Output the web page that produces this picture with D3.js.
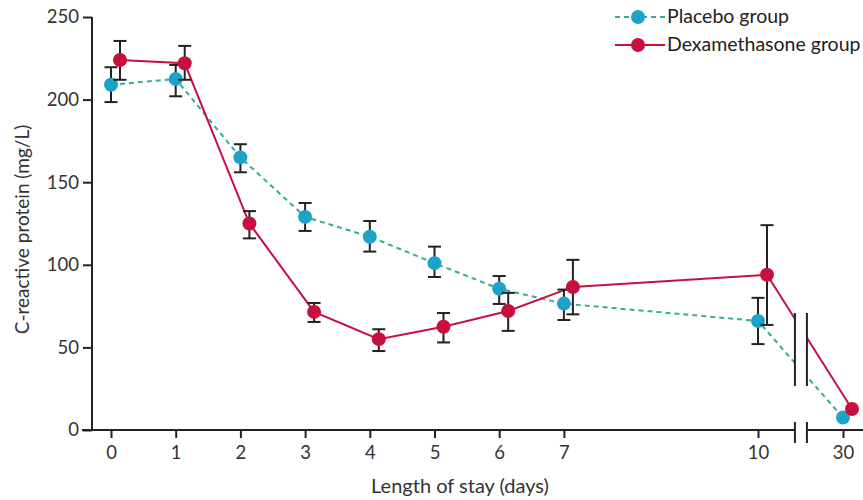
<!DOCTYPE html>
<html><head><meta charset="utf-8">
<script src="https://cdn.jsdelivr.net/npm/d3@7"></script>
<style>body{margin:0;background:#fff}svg{display:block}text{font-family:Lato,"Open Sans",sans-serif}</style>
</head><body><svg id="c" width="863" height="500"></svg>
<script>
const days = [0,1,2,3,4,5,6,7,10,30];
const xTicks = [0,1,2,3,4,5,6,7,10,30];
const yTicks = [0,50,100,150,200,250];
const placeboMean = [209,212.5,165,129,117,101,85.5,76.5,66,7.5];
const placeboLo   = [198.5,202,156,120.5,108,92.6,76.3,66.6,52,null];
const placeboHi   = [219.6,221,173,137.4,126.5,111,93.2,85,80,null];
const dexaMean = [224,222,125,71.5,55,62.5,72,86.6,94,12.7];
const dexaLo   = [212,212,116,65.4,47.8,53,60,70,63.6,null];
const dexaHi   = [235.5,232.5,132.5,76.9,61,70.8,83,103,124,null];
const seriesNames = ["Placebo group","Dexamethasone group"];

const svg = d3.select("#c");
const x = d3.scaleLinear().domain([0,10,30]).range([111,758,843]);
const y = d3.scaleLinear().domain([0,250]).range([430,17]);
const axisX0 = 92, breakDay = 20.1, breakHalf = 6;
const colP = "#1ba3c9", colPLine = "#35ab9c", colD = "#c8103f";

const series = [
  {name:seriesNames[0], mean:placeboMean, lo:placeboLo, hi:placeboHi, dx:0, color:colP, line:colPLine, dash:"5,4"},
  {name:seriesNames[1], mean:dexaMean, lo:dexaLo, hi:dexaHi, dx:9, color:colD, line:colD, dash:null}
];

// y axis
const yAxis = d3.axisLeft(y).tickValues(yTicks).tickSize(9).tickPadding(4);
const gy = svg.append("g").attr("transform",`translate(${axisX0},0)`).call(yAxis);
gy.select(".domain").attr("d",`M0,${y(250)}V${y(0)}`);
// x axis
const xAxis = d3.axisBottom(x).tickValues(xTicks).tickSize(8).tickPadding(8);
const gx = svg.append("g").attr("transform",`translate(0,${y(0)})`).call(xAxis);
gx.select(".domain").attr("d",`M${axisX0-10},0H863`);
[gx,gy].forEach(g=>{
  g.selectAll("path,line").attr("stroke","#222").attr("stroke-width",2);
  g.selectAll("text").attr("font-size",18.5).attr("fill","#333").style("font-family","Lato,sans-serif");
});

// lines
series.forEach(s=>{
  const line = d3.line().x((d,i)=>x(days[i])+s.dx).y(d=>y(d));
  svg.append("path").datum(s.mean).attr("d",line).attr("fill","none")
    .attr("stroke",s.line).attr("stroke-width",2).attr("stroke-dasharray",s.dash);
});

// break: white gap + marks
const bx = x(breakDay);
svg.append("rect").attr("x",bx-breakHalf).attr("y",308).attr("width",breakHalf*2).attr("height",82).attr("fill","#fff");
svg.append("rect").attr("x",bx-breakHalf).attr("y",y(0)-3).attr("width",breakHalf*2).attr("height",6).attr("fill","#fff");
[-1,1].forEach(k=>{
  svg.append("line").attr("x1",bx+k*breakHalf).attr("x2",bx+k*breakHalf).attr("y1",313).attr("y2",386).attr("stroke","#222").attr("stroke-width",2);
  svg.append("line").attr("x1",bx+k*breakHalf).attr("x2",bx+k*breakHalf).attr("y1",y(0)-8).attr("y2",y(0)+13).attr("stroke","#222").attr("stroke-width",2);
});

// error bars + markers
series.forEach(s=>{
  const g = svg.append("g");
  s.mean.forEach((m,i)=>{
    if(s.lo[i]==null) return;
    const cx = x(days[i])+s.dx;
    g.append("line").attr("x1",cx).attr("x2",cx).attr("y1",y(s.lo[i])).attr("y2",y(s.hi[i])).attr("stroke","#222").attr("stroke-width",2);
    [s.lo[i],s.hi[i]].forEach(v=>g.append("line").attr("x1",cx-6.5).attr("x2",cx+6.5).attr("y1",y(v)).attr("y2",y(v)).attr("stroke","#222").attr("stroke-width",2));
  });
  svg.append("g").selectAll("circle").data(s.mean).join("circle")
    .attr("cx",(d,i)=>x(days[i])+s.dx).attr("cy",d=>y(d)).attr("r",7).attr("fill",s.color);
});

// legend
series.forEach((s,i)=>{
  const ly = 17 + i*28;
  svg.append("line").attr("x1",615).attr("x2",665).attr("y1",ly).attr("y2",ly)
    .attr("stroke",s.line).attr("stroke-width",2).attr("stroke-dasharray",s.dash);
  svg.append("circle").attr("cx",638).attr("cy",ly).attr("r",7).attr("fill",s.color);
  svg.append("text").attr("x",667).attr("y",ly+6).attr("font-size",19.5).attr("fill","#222").text(s.name);
});

// axis titles
svg.append("text").attr("x",460).attr("y",493).attr("text-anchor","middle").attr("font-size",20).attr("fill","#333").text("Length of stay (days)");
svg.append("text").attr("transform",`translate(29,${(y(0)+y(250))/2+6}) rotate(-90)`).attr("text-anchor","middle").attr("font-size",19).attr("fill","#333").text("C-reactive protein (mg/L)");
</script></body></html>
